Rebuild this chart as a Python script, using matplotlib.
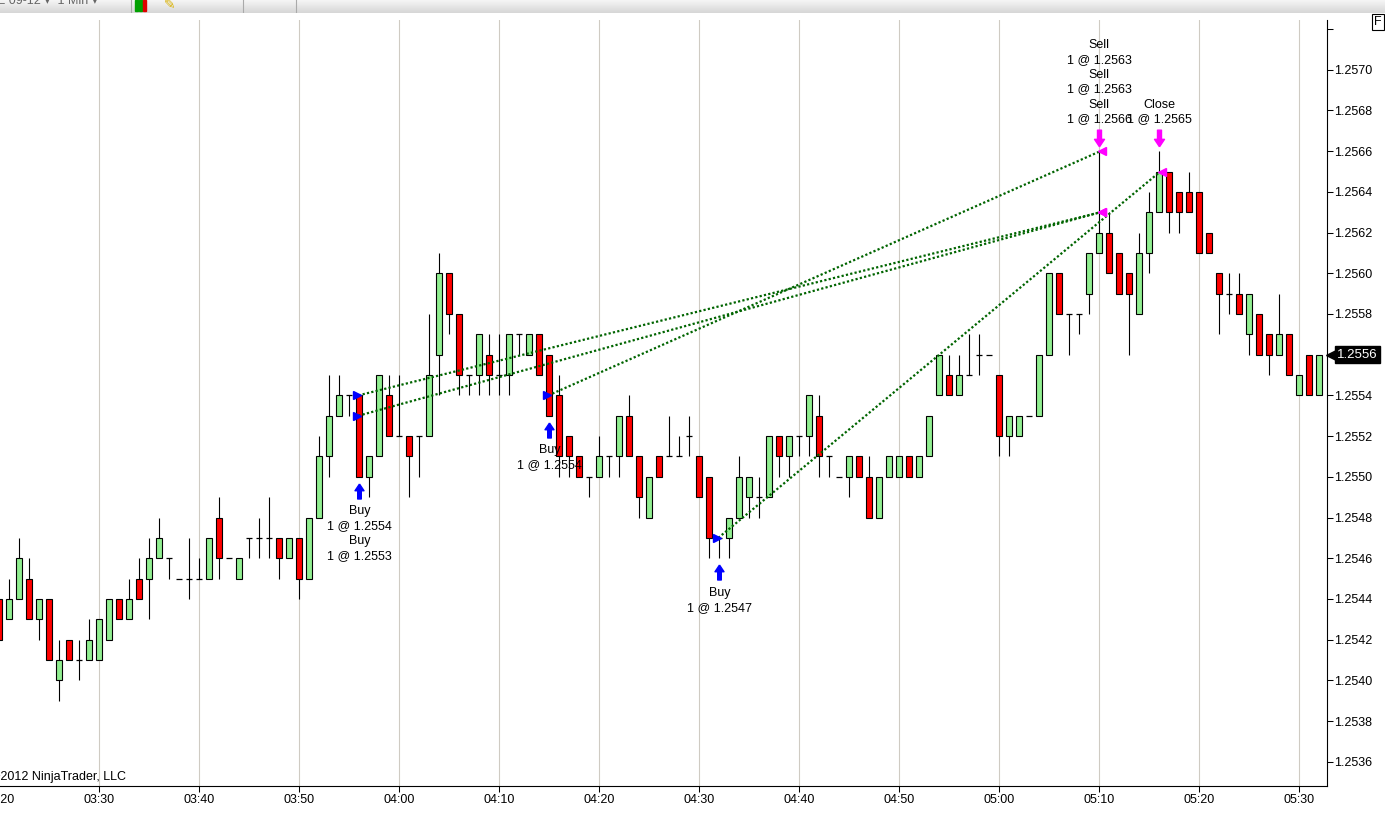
import numpy as np
import matplotlib
matplotlib.use("Agg")
import matplotlib.pyplot as plt
import matplotlib.transforms as mtransforms
from matplotlib.path import Path

plt.rcParams['font.family'] = ['Liberation Sans', 'DejaVu Sans']
plt.rcParams['font.size'] = 9

# 1 min bars from 03:20, prices given in pips above 1.2500
opens_p = [44, 43, 44, 45, 43, 44, 40, 42, 41, 41, 41, 42, 44, 43, 45, 45, 46, 46, 45, 45,
           45, 45, 48, 46, 45, 47, 47, 47, 47, 46, 47, 45, 48, 51, 53, 54, 54, 50, 51, 54,
           52, 52, 52, 52, 56, 60, 58, 55, 55, 56, 55, 55, 57, 56, 57, 56, 54, 52, 51, 50,
           50, 51, 51, 53, 51, 48, 51, 51, 51, 52, 51, 50, 47, 47, 48, 49, 49, 49, 52, 51,
           52, 52, 53, 51, 50, 50, 51, 50, 48, 50, 50, 51, 50, 51, 54, 55, 54, 55, 56, 56,
           55, 52, 52, 53, 53, 56, 60, 58, 58, 59, 61, 62, 61, 60, 58, 61, 63, 65, 64, 64,
           64, 62, 60, 59, 59, 57, 58, 57, 56, 57, 54, 56, 54]
closes_p = [42, 44, 46, 43, 44, 41, 41, 41, 41, 42, 43, 44, 43, 44, 44, 46, 47, 46, 45, 45,
            45, 47, 46, 46, 46, 47, 47, 47, 46, 47, 45, 48, 51, 53, 54, 54, 50, 51, 55, 52,
            52, 51, 52, 55, 60, 58, 55, 55, 57, 55, 55, 57, 57, 57, 55, 53, 51, 51, 50, 50,
            51, 51, 53, 51, 49, 50, 50, 51, 51, 52, 49, 47, 47, 48, 50, 50, 49, 52, 51, 52,
            52, 54, 51, 51, 50, 51, 50, 48, 50, 51, 51, 50, 51, 53, 56, 54, 55, 55, 56, 56,
            52, 53, 53, 53, 56, 60, 58, 58, 58, 61, 62, 60, 59, 59, 61, 63, 65, 63, 63, 63,
            61, 61, 59, 59, 58, 59, 56, 56, 57, 55, 55, 54, 56]
highs_p = [44, 45, 47, 46, 44, 44, 42, 42, 42, 43, 43, 44, 44, 45, 46, 47, 48, 46, 45, 47,
           46, 47, 49, 46, 46, 47, 48, 49, 47, 47, 47, 48, 52, 55, 55, 54, 54, 51, 55, 55,
           55, 52, 52, 58, 61, 60, 58, 55, 57, 57, 57, 57, 57, 57, 57, 56, 55, 52, 51, 50,
           52, 51, 53, 54, 51, 50, 51, 53, 52, 53, 51, 50, 47, 48, 51, 50, 50, 52, 52, 52,
           52, 54, 54, 51, 50, 51, 51, 51, 50, 51, 51, 51, 51, 53, 56, 56, 56, 57, 57, 56,
           55, 53, 53, 53, 56, 60, 60, 58, 58, 61, 66, 63, 61, 60, 62, 64, 66, 65, 64, 65,
           64, 62, 60, 60, 60, 59, 58, 57, 59, 57, 55, 56, 56]
lows_p = [42, 43, 44, 43, 42, 41, 39, 41, 40, 41, 41, 42, 43, 43, 44, 43, 46, 45, 45, 44,
          45, 45, 45, 46, 45, 46, 46, 46, 45, 46, 44, 45, 48, 50, 53, 53, 50, 49, 51, 52,
          52, 49, 50, 52, 54, 57, 54, 54, 54, 54, 54, 54, 56, 56, 55, 53, 50, 50, 50, 49,
          50, 50, 50, 51, 48, 48, 50, 51, 51, 51, 49, 46, 46, 46, 48, 48, 48, 49, 50, 50,
          51, 51, 50, 50, 50, 49, 50, 48, 48, 50, 50, 50, 50, 51, 54, 54, 54, 55, 55, 56,
          51, 51, 52, 53, 53, 56, 58, 56, 57, 58, 61, 60, 59, 56, 58, 60, 63, 62, 62, 63,
          61, 61, 57, 58, 58, 56, 56, 55, 56, 55, 54, 54, 54]

time_labels = ['03:20', '03:30', '03:40', '03:50', '04:00', '04:10', '04:20',
               '04:30', '04:40', '04:50', '05:00', '05:10', '05:20', '05:30']

# executions (bar index, price)
entry_bar = [36, 36, 55, 72]
entry_price = [1.2554, 1.2553, 1.2554, 1.2547]
exit_bar = [110, 110, 110, 116]
exit_price = [1.2563, 1.2563, 1.2566, 1.2565]
exit_name = ['Sell', 'Sell', 'Sell', 'Close']

opens = np.round(1.25 + np.array(opens_p) / 1e4, 4)
closes = np.round(1.25 + np.array(closes_p) / 1e4, 4)
highs = np.round(1.25 + np.array(highs_p) / 1e4, 4)
lows = np.round(1.25 + np.array(lows_p) / 1e4, 4)
x = np.arange(len(opens))

W, H = 1385, 816
fig = plt.figure(figsize=(W / 100, H / 100), dpi=100, facecolor='white')
ax = fig.add_axes([0, 30 / H, 1327 / W, 766 / H])
ax.set_facecolor('white')

grid_c = '#CFCBC3'
ax.vlines(x, lows, highs, colors='black', linewidth=0.8, zorder=2)
up = closes > opens
dn = closes < opens
dj = closes == opens
ax.bar(x[up], (closes - opens)[up], bottom=opens[up], width=0.6, color='#90EE90',
       edgecolor='black', linewidth=0.8, zorder=3)
ax.bar(x[dn], (opens - closes)[dn], bottom=closes[dn], width=0.6, color='#FF0000',
       edgecolor='black', linewidth=0.8, zorder=3)
ax.hlines(closes[dj], x[dj] - 0.32, x[dj] + 0.32, colors='black', linewidth=0.9, zorder=3)

# trade connection lines
for eb, ep, xb, xp in zip(entry_bar, entry_price, exit_bar, exit_price):
    ax.plot([eb - 0.1, xb + 0.1], [ep, xp], color='#006400', linestyle=(0, (1, 1)),
            linewidth=1.6, zorder=5)

ax.plot(np.array(entry_bar) - 0.25, entry_price, linestyle='none', marker='>',
        color='#0000FF', markersize=6, zorder=6)
ax.plot(np.array(exit_bar) + 0.3, exit_price, linestyle='none', marker='<',
        color='#FF00FF', markersize=6, zorder=6)

arrow_up = Path([(0, 0.5), (0.3, 0.05), (0.12, 0.05), (0.12, -0.5), (-0.12, -0.5),
                 (-0.12, 0.05), (-0.3, 0.05), (0, 0.5)])
arrow_dn = Path([(vx, -vy) for vx, vy in arrow_up.vertices])
below = ax.transData + mtransforms.ScaledTranslation(0, -0.14, fig.dpi_scale_trans)
above = ax.transData + mtransforms.ScaledTranslation(0, 0.135, fig.dpi_scale_trans)

for b in sorted(set(entry_bar)):
    txt = '\n'.join(f'Buy\n1 @ {p:.4f}' for eb, p in zip(entry_bar, entry_price) if eb == b)
    ax.plot([b], [lows[b]], marker=arrow_up, markersize=10.8, color='#0000FF',
            linestyle='none', transform=below, zorder=6)
    ax.annotate(txt, xy=(b, lows[b]), xytext=(0, -20.5), textcoords='offset points',
                ha='center', va='top', fontsize=9, linespacing=1.33, zorder=7)

for b in sorted(set(exit_bar)):
    txt = '\n'.join(f'{n}\n1 @ {p:.4f}' for xb, p, n in zip(exit_bar, exit_price, exit_name) if xb == b)
    ax.plot([b], [highs[b]], marker=arrow_dn, markersize=12, color='#FF00FF',
            linestyle='none', transform=above, zorder=6)
    ax.annotate(txt, xy=(b, highs[b]), xytext=(0, 18.5), textcoords='offset points',
                ha='center', va='bottom', fontsize=9, linespacing=1.33, zorder=7)

ax.set_xlim(0.07, 132.77)
ax.set_ylim(1.2534806, 1.2572447)

xt = np.arange(len(time_labels)) * 10
ax.set_xticks(xt[1:])
ax.set_xticklabels(time_labels[1:])
ax.text(xt[0], -0.0105, time_labels[0], transform=ax.get_xaxis_transform(),
        ha='center', va='top', fontsize=9, clip_on=False)
yt = np.round(np.arange(1.2536, 1.25725, 0.0002), 4)
ax.set_yticks(yt)
# top tick is unlabeled, the last-price box covers its own level
ax.set_yticklabels([f'{v:.4f}' if (v < 1.2571 and v != closes[-1]) else '' for v in yt])
ax.set_yticks(np.round(np.arange(1.2536, 1.25725, 0.0006), 4), minor=True)
ax.yaxis.tick_right()
ax.tick_params(axis='y', which='major', direction='out', length=4, width=0.75, pad=1,
               labelsize=9)
ax.tick_params(axis='y', which='minor', length=0)
ax.tick_params(axis='x', direction='out', length=4.3, width=0.75, pad=1.5, labelsize=9)
ax.xaxis.grid(True, color=grid_c, linewidth=0.8, zorder=0)
ax.yaxis.grid(True, which='minor', color=grid_c, linewidth=0.8, zorder=0)
ax.yaxis.grid(False, which='major')
ax.set_axisbelow(True)
for s in ['top', 'left']:
    ax.spines[s].set_visible(False)
for s in ['right', 'bottom']:
    ax.spines[s].set_linewidth(0.8)

# last price marker
ax.annotate(f'{closes[-1]:.4f}', xy=(1, closes[-1]), xycoords=('axes fraction', 'data'),
            xytext=(7.5, 0), textcoords='offset points', ha='left', va='center',
            color='white', fontsize=9.5, zorder=8,
            bbox=dict(boxstyle='square,pad=0.18', fc='black', ec='black'),
            annotation_clip=False)
ax.plot([1.003], [closes[-1]], marker='<', markersize=7, color='black',
        transform=ax.get_yaxis_transform(), clip_on=False, zorder=8)

fig.text(-9 / W, 1 - 777 / H, '\u00a92012 NinjaTrader, LLC', fontsize=9, ha='left', va='center')
fig.text(1378 / W, 1 - 22 / H, 'F', fontsize=9, ha='center', va='center',
         bbox=dict(boxstyle='square,pad=0.15', fc='white', ec='black', lw=0.8))

# toolbar strip
tb = fig.add_axes([0, 1 - 13 / H, 1, 13 / H])
tb.imshow(np.linspace(0.96, 0.84, 20).reshape(-1, 1), cmap='gray', vmin=0, vmax=1,
          aspect='auto', extent=[0, W, 0, 13])
tb.set_xlim(0, W)
tb.set_ylim(0, 13)
tb.axis('off')
tb.text(-3, 12, 'E 09-12 \u25be  1 Min \u25be', color='#666666', fontsize=9, va='center')
for xx, cc in zip([135, 139, 143], ['#00A000', '#00A000', '#E00000']):
    tb.add_patch(plt.Rectangle((xx, 2), 3, 11, color=cc))
for xx in [131, 243, 296]:
    tb.plot([xx, xx], [0, 13], color='#AAAAAA', lw=0.8)
tb.text(170, 8, '\u270e', color='#D8B000', fontsize=10, va='center', ha='center')

fig.savefig('out.png', dpi=100, facecolor='white')
